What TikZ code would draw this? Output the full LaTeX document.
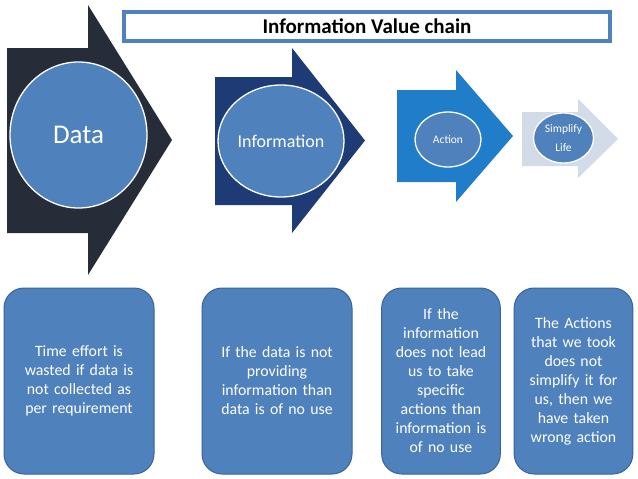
\documentclass[tikz,border=0pt]{standalone}
\usepackage{fontspec}
\setmainfont{Carlito}
\usetikzlibrary{shapes.geometric}
\definecolor{darkarrow}{HTML}{272D38}
\definecolor{navyarrow}{HTML}{1E3B75}
\definecolor{midarrow}{HTML}{1F7DCA}
\definecolor{lightarrow}{HTML}{D3DBE8}
\definecolor{cblue}{HTML}{4F81BD}
\definecolor{cborder}{HTML}{3A639A}
\tikzset{
  circ/.style={ellipse, fill=cblue, draw=white, line width=1.3pt, text=white, inner sep=0pt, align=center},
  infobox/.style={fill=cblue, draw=cborder, line width=1pt, rounded corners=20pt, text=white, align=center,
    font=\fontsize{15.8}{19}\selectfont},
}
\begin{document}
\begin{tikzpicture}[x=1pt,y=-1pt]
\useasboundingbox (0,0) rectangle (638,479);
\fill[white] (0,0) rectangle (638,479);
% title
\node[draw=cblue, line width=4.5pt, fill=white, minimum width=486pt, minimum height=29pt, inner sep=0pt,
  font=\fontsize{21}{22}\selectfont\bfseries] (title) at (367,26.5) {Information Value chain};
% arrows
\fill[darkarrow] (7,48) -- (88,48) -- (88,5) -- (172,140) -- (88,275) -- (88,233) -- (7,233) -- cycle;
\fill[navyarrow] (215,77) -- (292,77) -- (292,48) -- (365,140.5) -- (292,233) -- (292,205) -- (215,205) -- cycle;
\fill[midarrow] (397,90) -- (456,90) -- (456,70) -- (513,136) -- (456,202) -- (456,182) -- (397,182) -- cycle;
\fill[lightarrow] (522,112) -- (578,112) -- (578,99) -- (618,139) -- (578,178) -- (578,166) -- (522,166) -- cycle;
% circles
\node[circ, minimum width=137pt, minimum height=146pt, font=\fontsize{27}{29}\selectfont] (data) at (78.5,135) {Data};
\node[circ, minimum width=126pt, minimum height=112pt, font=\fontsize{18}{20}\selectfont] (info) at (281,141) {Information};
\node[circ, minimum width=66pt, minimum height=55pt, font=\fontsize{11.5}{13}\selectfont] (action) at (448,139.5) {Action};
\node[circ, minimum width=60pt, minimum height=50pt, font=\fontsize{11.5}{19}\selectfont] (simplify) at (563.5,138) {Simplify\\Life};
% boxes
\node[infobox, minimum width=150pt, minimum height=186pt, text width=140pt] (b1) at (79,381) {Time effort is\\wasted if data is\\not collected as\\per requirement};
\node[infobox, minimum width=150pt, minimum height=186pt, text width=140pt] (b2) at (277,381) {If the data is not\\providing\\information than\\data is of no use};
\node[infobox, minimum width=118pt, minimum height=186pt, text width=112pt] (b3) at (441,381) {If the\\information\\does not lead\\us to take\\specific\\actions than\\information is\\of no use};
\node[infobox, minimum width=117pt, minimum height=186pt, text width=112pt] (b4) at (573.5,381) {The Actions\\that we took\\does not\\simplify it for\\us, then we\\have taken\\wrong action};
\end{tikzpicture}
\end{document}
